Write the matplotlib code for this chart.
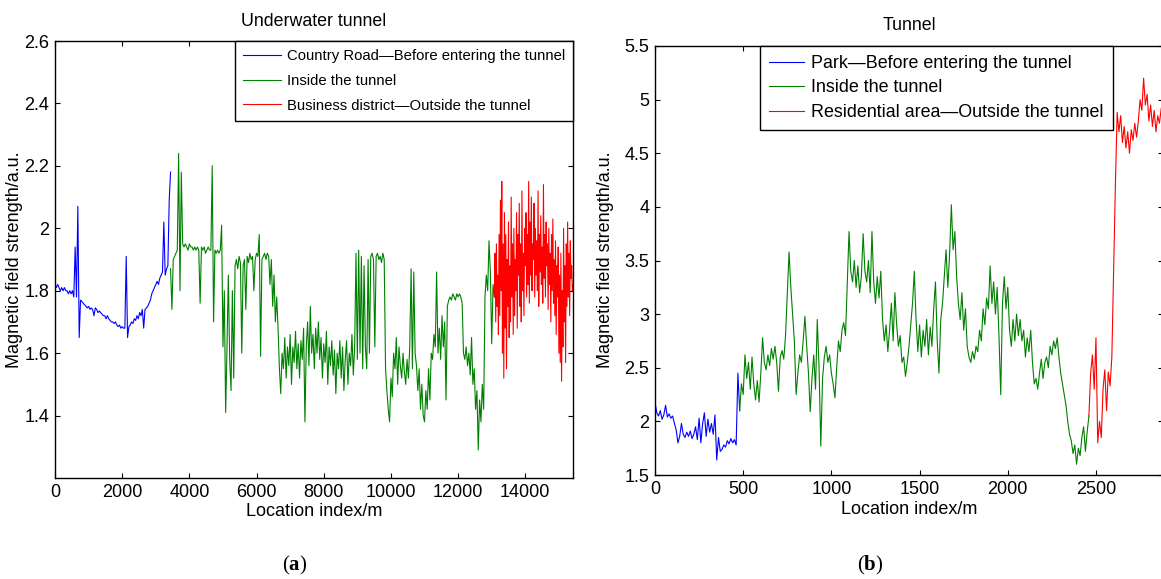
import numpy as np
import matplotlib.pyplot as plt
from matplotlib.ticker import FuncFormatter

plt.rcParams['font.family'] = ['Liberation Sans', 'DejaVu Sans']
plt.rcParams['mathtext.fontset'] = 'custom'
plt.rcParams['mathtext.rm'] = 'Liberation Serif'
plt.rcParams['mathtext.bf'] = 'Liberation Serif:bold'

# ---- (a) underwater tunnel, samples every 40 m (red part every 20 m) ----
a_blue_start, a_blue_step = 0, 40
a_blue = [1.82, 1.81, 1.82, 1.81, 1.80, 1.81, 1.80, 1.81, 1.80, 1.80,
          1.79, 1.80, 1.79, 1.80, 1.78, 1.94, 1.78, 2.07, 1.65, 1.77,
          1.765, 1.76, 1.755, 1.75, 1.745, 1.75, 1.74, 1.745, 1.74, 1.72,
          1.745, 1.74, 1.73, 1.735, 1.73, 1.725, 1.72, 1.72, 1.71, 1.72,
          1.71, 1.705, 1.70, 1.70, 1.695, 1.70, 1.69, 1.685, 1.69, 1.68,
          1.685, 1.68, 1.68, 1.91, 1.65, 1.685, 1.69, 1.70, 1.695, 1.71,
          1.705, 1.72, 1.71, 1.73, 1.72, 1.74, 1.68, 1.74, 1.745, 1.75,
          1.76, 1.77, 1.79, 1.80, 1.81, 1.82, 1.83, 1.82, 1.84, 1.85,
          1.86, 2.02, 1.85, 1.87, 1.88, 2.09, 2.18]

a_green_start, a_green_step = 3440, 40
a_green = [1.87, 1.74, 1.90, 1.91, 1.92, 1.93, 2.24, 1.80, 2.18, 1.95,
           1.94, 1.95, 1.94, 1.93, 1.95, 1.94, 1.94, 1.93, 1.94, 1.93,
           1.94, 1.93, 1.76, 1.94, 1.93, 1.94, 1.92, 1.93, 1.94, 1.93,
           1.93, 2.20, 1.70, 1.93, 1.92, 1.93, 1.92, 1.93, 2.01, 1.62,
           1.80, 1.41, 1.62, 1.85, 1.58, 1.48, 1.80, 1.52, 1.88, 1.90,
           1.87, 1.91, 1.89, 1.60, 1.88, 1.90, 1.74, 1.91, 1.89, 1.92,
           1.90, 1.91, 1.80, 1.90, 1.92, 1.91, 1.98, 1.59, 1.90, 1.91,
           1.92, 1.90, 1.92, 1.91, 1.82, 1.90, 1.75, 1.85, 1.70, 1.78,
           1.68, 1.55, 1.47, 1.60, 1.55, 1.65, 1.52, 1.62, 1.56, 1.66,
           1.50, 1.62, 1.57, 1.67, 1.55, 1.63, 1.52, 1.64, 1.58, 1.68,
           1.38, 1.62, 1.70, 1.56, 1.75, 1.60, 1.66, 1.55, 1.68, 1.60,
           1.70, 1.58, 1.65, 1.52, 1.63, 1.57, 1.67, 1.50, 1.62, 1.56,
           1.64, 1.53, 1.61, 1.47, 1.60, 1.55, 1.64, 1.52, 1.62, 1.48,
           1.58, 1.64, 1.50, 1.60, 1.56, 1.66, 1.53, 1.62, 1.92, 1.58,
           1.93, 1.60, 1.91, 1.55, 1.88, 1.62, 1.55, 1.90, 1.60, 1.91,
           1.92, 1.90, 1.62, 1.91, 1.92, 1.90, 1.91, 1.89, 1.92, 1.90,
           1.55, 1.48, 1.42, 1.38, 1.52, 1.46, 1.60, 1.55, 1.65, 1.50,
           1.62, 1.56, 1.52, 1.60, 1.54, 1.50, 1.58, 1.52, 1.62, 1.87,
           1.55, 1.86, 1.60, 1.56, 1.48, 1.55, 1.42, 1.50, 1.40, 1.38,
           1.48, 1.42, 1.55, 1.45, 1.60, 1.58, 1.66, 1.62, 1.86, 1.60,
           1.68, 1.58, 1.72, 1.62, 1.70, 1.45, 1.75, 1.77, 1.78, 1.77,
           1.79, 1.78, 1.77, 1.79, 1.78, 1.79, 1.78, 1.76, 1.60, 1.58,
           1.62, 1.56, 1.60, 1.53, 1.65, 1.50, 1.55, 1.42, 1.48, 1.29,
           1.45, 1.38, 1.50, 1.42, 1.78, 1.85, 1.80, 1.96, 1.86, 1.63,
           1.82, 1.78]

a_red_start, a_red_step = 13080, 20
a_red = [1.78, 1.92, 1.70, 1.95, 1.75, 1.85, 1.66, 1.98, 1.72, 2.09,
         1.80, 2.15, 1.60, 1.95, 1.52, 2.05, 1.68, 1.98, 1.55, 1.90,
         1.75, 2.02, 1.65, 1.88, 1.70, 2.10, 1.78, 1.95, 1.66, 2.00,
         1.72, 1.90, 1.80, 2.05, 1.68, 1.98, 1.85, 2.08, 1.75, 1.95,
         1.70, 2.12, 1.80, 1.92, 1.72, 2.00, 1.88, 2.05, 1.78, 1.98,
         1.82, 2.15, 1.76, 2.02, 1.85, 2.10, 1.80, 1.95, 1.90, 2.08,
         1.78, 2.00, 1.85, 1.96, 1.80, 2.12, 1.75, 1.98, 1.86, 2.04,
         1.82, 1.94, 1.76, 2.14, 1.84, 1.98, 1.78, 2.02, 1.88, 1.95,
         1.74, 2.00, 1.82, 1.92, 1.70, 1.98, 1.80, 2.03, 1.76, 1.90,
         1.72, 1.96, 1.66, 1.88, 1.78, 1.94, 1.60, 1.85, 1.57, 1.92,
         1.51, 1.80, 1.62, 2.00, 1.70, 1.88, 1.57, 1.95, 1.75, 2.02,
         1.78, 1.92, 1.72, 1.96, 1.84, 1.88, 1.80, 1.82]

# ---- (b) tunnel, samples every 10 m ----
b_blue_start, b_blue_step = 0, 10
b_blue = [2.18, 2.08, 2.05, 2.10, 2.02, 2.06, 2.15, 2.04, 2.07, 2.03,
          2.05, 1.98, 1.92, 1.80, 1.86, 1.98, 1.88, 1.85, 1.90, 1.86,
          1.91, 1.84, 1.88, 1.95, 1.83, 2.03, 1.80, 1.98, 2.08, 1.86,
          2.02, 1.90, 1.98, 1.88, 2.06, 1.64, 1.85, 1.72, 1.74, 1.78,
          1.76, 1.82, 1.79, 1.84, 1.80, 1.83, 1.78, 2.45, 2.10]

b_green_start, b_green_step = 480, 10
b_green = [2.10, 2.35, 2.25, 2.62, 2.40, 2.55, 2.30, 2.60, 2.35, 2.20,
           2.38, 2.18, 2.45, 2.78, 2.55, 2.48, 2.62, 2.52, 2.68, 2.58,
           2.70, 2.55, 2.28, 2.60, 2.66, 2.58, 2.80, 3.20, 3.58, 3.25,
           3.00, 2.75, 2.25, 2.45, 2.62, 2.55, 2.75, 2.98, 2.70, 2.45,
           2.09, 2.40, 2.62, 2.30, 2.95, 2.50, 1.77, 2.40, 2.60, 2.70,
           2.55, 2.62, 2.45, 2.35, 2.22, 2.50, 2.75, 2.65, 2.85, 2.92,
           2.80, 3.30, 3.77, 3.40, 3.30, 3.50, 3.25, 3.45, 3.20, 3.35,
           3.75, 3.40, 3.30, 3.50, 3.20, 3.77, 3.30, 3.10, 3.35, 3.15,
           3.40, 2.95, 2.75, 2.90, 2.65, 2.85, 3.10, 2.75, 3.20, 2.90,
           2.70, 2.80, 2.55, 2.60, 2.42, 2.55, 2.70, 2.90, 3.10, 3.40,
           2.95, 2.65, 2.90, 2.60, 2.85, 2.70, 2.95, 2.62, 2.88, 2.70,
           3.05, 3.30, 2.75, 2.45, 2.95, 3.10, 3.35, 3.60, 3.25, 3.55,
           4.02, 3.60, 3.77, 3.35, 3.10, 2.95, 3.20, 2.85, 3.05, 2.70,
           2.60, 2.55, 2.65, 2.58, 2.70, 2.65, 2.85, 2.75, 3.05, 2.90,
           3.15, 3.05, 3.45, 3.10, 3.30, 3.00, 3.25, 2.80, 2.25, 3.10,
           3.35, 3.05, 3.25, 2.85, 2.70, 2.95, 2.75, 3.00, 2.80, 2.95,
           2.75, 2.85, 2.60, 2.78, 2.65, 2.85, 2.55, 2.35, 2.40, 2.30,
           2.45, 2.58, 2.40, 2.55, 2.60, 2.50, 2.70, 2.62, 2.75, 2.68,
           2.78, 2.60, 2.45, 2.35, 2.25, 2.15, 2.00, 1.88, 1.82, 1.70,
           1.78, 1.60, 1.75, 1.68, 1.85, 1.95, 1.72, 1.90, 2.05]

b_red_start, b_red_step = 2460, 10
b_red = [2.05, 2.45, 2.62, 2.30, 2.78, 1.80, 2.00, 1.85, 2.30, 2.48,
         2.10, 2.46, 2.33, 2.60, 3.40, 4.20, 4.88, 4.70, 4.85, 4.60,
         4.75, 4.55, 4.70, 4.50, 4.72, 4.62, 4.78, 4.65, 4.80, 5.00,
         4.90, 5.20, 4.95, 5.05, 4.80, 4.95, 4.75, 4.90, 4.70, 4.85,
         4.78, 4.92]

labels_a = ['Country Road\u2014Before entering the tunnel', 'Inside the tunnel',
            'Business district\u2014Outside the tunnel']
labels_b = ['Park\u2014Before entering the tunnel', 'Inside the tunnel',
            'Residential area\u2014Outside the tunnel']
colors = ['#0000ff', '#008000', '#ff0000']


def positions(start, step, vals):
    return start + step * np.arange(len(vals))


W, H = 1161, 579
fig = plt.figure(figsize=(W / 100, H / 100), dpi=100)
ax_a = fig.add_axes([55 / W, 1 - 478 / H, (573 - 55) / W, (478 - 41) / H])
ax_b = fig.add_axes([655 / W, 1 - 475 / H, 508 / W, (475 - 46) / H])

segs_a = [(a_blue_start, a_blue_step, a_blue), (a_green_start, a_green_step, a_green),
          (a_red_start, a_red_step, a_red)]
segs_b = [(b_blue_start, b_blue_step, b_blue), (b_green_start, b_green_step, b_green),
          (b_red_start, b_red_step, b_red)]

lines_a = []
for (s, st, v), c in zip(segs_a, colors):
    lines_a += ax_a.plot(positions(s, st, v), v, color=c, lw=0.8)
lines_b = []
for (s, st, v), c in zip(segs_b, colors):
    lines_b += ax_b.plot(positions(s, st, v), v, color=c, lw=0.8)

ax_a.set_xlim(0, 15420)
ax_a.set_ylim(1.2, 2.6)
ax_a.set_xticks(np.arange(0, 15000, 2000))
ax_a.set_yticks([1.4, 1.6, 1.8, 2.0, 2.2, 2.4, 2.6])

ax_b.set_xlim(0, 2880)
ax_b.set_ylim(1.5, 5.5)
ax_b.set_xticks(np.arange(0, 3000, 500))
ax_b.set_yticks(np.arange(1.5, 5.6, 0.5))

fmt = FuncFormatter(lambda v, p: '%g' % v)
for ax in (ax_a, ax_b):
    ax.yaxis.set_major_formatter(fmt)
    ax.tick_params(direction='in', length=3.6, width=0.8, top=True, right=True,
                   labelsize=13, pad=4)
    for sp in ax.spines.values():
        sp.set_linewidth(1.0)

leg_a = ax_a.legend(lines_a, labels_a, loc='upper right', bbox_to_anchor=(1, 1),
                    borderaxespad=0, fontsize=10.7, fancybox=False, framealpha=1,
                    edgecolor='black', handlelength=2.6, handletextpad=0.35,
                    labelspacing=0.72, borderpad=0.55)
leg_a.get_frame().set_linewidth(1.0)
leg_b = ax_b.legend(lines_b, labels_b, loc='upper left', bbox_to_anchor=(105 / 508, 1),
                    borderaxespad=0, fontsize=12.9, fancybox=False, framealpha=1,
                    edgecolor='black', handlelength=1.95, handletextpad=0.4,
                    labelspacing=0.42, borderpad=0.5)
leg_b.get_frame().set_linewidth(1.0)

fig.text(314 / W, 1 - 21 / H, 'Underwater tunnel', ha='center', va='center', fontsize=12.8)
fig.text(909 / W, 1 - 26 / H, 'Tunnel', ha='center', va='center', fontsize=12.8)
fig.text(314 / W, 1 - 512 / H, 'Location index/m', ha='center', va='center', fontsize=13)
fig.text(909 / W, 1 - 510 / H, 'Location index/m', ha='center', va='center', fontsize=13)
fig.text(15 / W, 1 - 260 / H, 'Magnetic field strength/a.u.', ha='center', va='center',
         rotation=90, fontsize=13)
fig.text(606 / W, 1 - 260 / H, 'Magnetic field strength/a.u.', ha='center', va='center',
         rotation=90, fontsize=13)
fig.text(295 / W, 1 - 565 / H, r'$\mathrm{(}\mathbf{a}\mathrm{)}$', ha='center', va='center',
         fontsize=15)
fig.text(870 / W, 1 - 565 / H, r'$\mathrm{(}\mathbf{b}\mathrm{)}$', ha='center', va='center',
         fontsize=15)

fig.savefig('out.png', dpi=100)
